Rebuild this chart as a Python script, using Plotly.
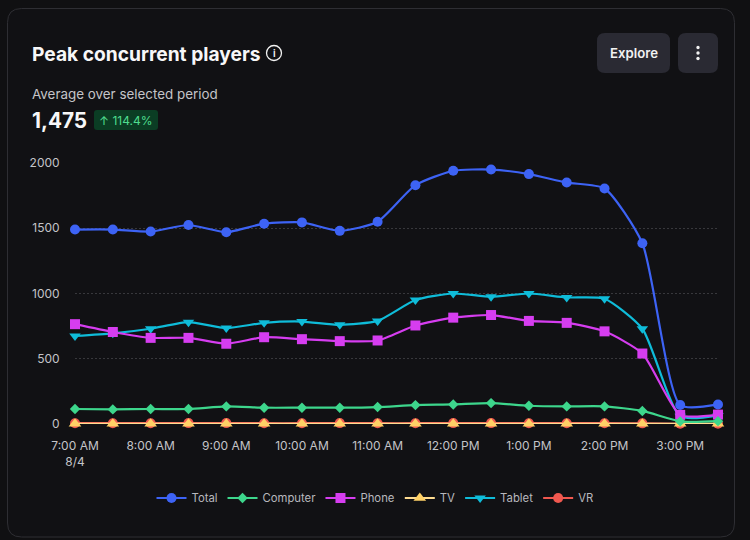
import plotly.graph_objects as go

times = ["7:00 AM", "7:30 AM", "8:00 AM", "8:30 AM", "9:00 AM", "9:30 AM", "10:00 AM", "10:30 AM", "11:00 AM",
         "11:30 AM", "12:00 PM", "12:30 PM", "1:00 PM", "1:30 PM", "2:00 PM", "2:30 PM", "3:00 PM", "3:30 PM"]
tick_vals = ["7:00 AM", "8:00 AM", "9:00 AM", "10:00 AM", "11:00 AM", "12:00 PM", "1:00 PM", "2:00 PM", "3:00 PM"]
tick_text = ["7:00 AM<br>8/4", "8:00 AM", "9:00 AM", "10:00 AM", "11:00 AM", "12:00 PM", "1:00 PM", "2:00 PM", "3:00 PM"]

total = [1490, 1490, 1475, 1525, 1470, 1535, 1545, 1480, 1550, 1830, 1940, 1950, 1915, 1850, 1805, 1385, 145, 150]
computer = [115, 112, 115, 115, 135, 125, 125, 125, 130, 145, 150, 160, 140, 135, 135, 100, 20, 22]
phone = [765, 705, 660, 660, 615, 665, 650, 635, 640, 755, 815, 835, 790, 775, 710, 540, 70, 72]
tv = [2, 2, 2, 2, 2, 2, 2, 2, 2, 2, 2, 2, 2, 2, 2, 2, 1, 1]
tablet = [675, 695, 730, 780, 735, 775, 785, 760, 790, 950, 1000, 975, 1000, 970, 960, 730, 60, 65]
vr = [6, 6, 6, 7, 7, 6, 6, 7, 6, 6, 7, 7, 6, 6, 6, 5, 2, 2]

W, H = 750, 540
def px(x): return x / W
def py(y): return 1 - y / H

def rrect(x0, y0, x1, y1, r):
    X0, X1 = px(x0), px(x1)
    Y0, Y1 = py(y0), py(y1)
    rx, ry = r / W, r / H
    return (f"M {X0 + rx} {Y0} L {X1 - rx} {Y0} Q {X1} {Y0} {X1} {Y0 - ry} "
            f"L {X1} {Y1 + ry} Q {X1} {Y1} {X1 - rx} {Y1} L {X0 + rx} {Y1} "
            f"Q {X0} {Y1} {X0} {Y1 + ry} L {X0} {Y0 - ry} Q {X0} {Y0} {X0 + rx} {Y0} Z")

FONT = "Inter"
series = [
    ("Total", total, "#3d63f5", "circle", 10, 1, "#3d63f5"),
    ("Tablet", tablet, "#0fbcd9", "triangle-down", 10, 5, "#0fbcd9"),
    ("Phone", phone, "#d63df0", "square", 10, 3, "#d63df0"),
    ("VR", vr, "#f0584f", "circle", 10, 6, "#f0584f"),
    ("TV", tv, "#ffd166", "triangle-up", 11, 4, "#ffdc90"),
    ("Computer", computer, "#3dd68c", "diamond", 8, 2, "#3dd68c"),
]

fig = go.Figure()
for name, vals, color, sym, size, rank, linecolor in series:
    fig.add_trace(go.Scatter(
        x=times, y=vals, name=name, mode="lines+markers", legendrank=rank,
        line=dict(color=linecolor, width=2.2, shape="spline", smoothing=0.6),
        marker=dict(color=color, symbol=sym, size=size),
        cliponaxis=False,
    ))

shapes = [
    dict(type="path", xref="paper", yref="paper", path=rrect(7.5, 8.5, 734.5, 537, 14),
         line=dict(color="#2e2e33", width=1), fillcolor="#111114", layer="below"),
    dict(type="path", xref="paper", yref="paper", path=rrect(597, 33, 670, 73, 8),
         line=dict(width=0), fillcolor="#2a2a33", layer="below"),
    dict(type="path", xref="paper", yref="paper", path=rrect(678, 33, 718, 73, 8),
         line=dict(width=0), fillcolor="#2a2a33", layer="below"),
    dict(type="path", xref="paper", yref="paper", path=rrect(94, 110, 158, 130, 3),
         line=dict(width=0), fillcolor="#0b3d24", layer="below"),
    dict(type="circle", xref="paper", yref="paper", x0=px(266.5), x1=px(281.5), y0=py(60.5), y1=py(45.5),
         line=dict(color="#f2f2f2", width=1.3)),
]
for cy in (47.5, 53, 58.5):
    shapes.append(dict(type="circle", xref="paper", yref="paper", x0=px(696.3), x1=px(699.7),
                       y0=py(cy + 1.7), y1=py(cy - 1.7), line=dict(width=0), fillcolor="#f2f2f2"))

def note(x, y, text, size, color, xanchor="left", weight=None):
    return dict(x=px(x), y=py(y), xref="paper", yref="paper", text=text, showarrow=False,
                xanchor=xanchor, yanchor="middle", borderpad=0, borderwidth=0,
                font=dict(family=FONT, size=size, color=color, weight=weight))

annotations = [
    note(32, 54, "Peak concurrent players", 19.2, "#f7f7f8", weight=700),
    note(274, 53, "i", 10, "#f7f7f8", "center", 600),
    note(32, 94, "Average over selected period", 13.4, "#c4c4c8"),
    note(32, 120, "1,475", 20.8, "#f7f7f8", weight=700),
    note(99, 120, "↑ 114.4%", 12, "#4fdc8f"),
    note(634, 53, "Explore", 13.2, "#f2f2f2", "center", 600),
]

fig.update_layout(
    width=W, height=H, margin=dict(l=0, r=0, t=0, b=0), autosize=False,
    paper_bgcolor="#101012", plot_bgcolor="rgba(0,0,0,0)",
    font=dict(family=FONT, size=12, color="#c4c4c8"),
    shapes=shapes, annotations=annotations,
    legend=dict(orientation="h", x=px(375), xanchor="center", y=py(498), yanchor="middle",
                font=dict(family=FONT, size=11.3, color="#b8b8bd"), bgcolor="rgba(0,0,0,0)",
                itemwidth=30, traceorder="normal"),
    xaxis=dict(domain=[px(75), px(718)], type="category", categoryorder="array", categoryarray=times,
               range=[0, 17], tickmode="array", tickvals=tick_vals, ticktext=tick_text, automargin=False,
               showgrid=False, zeroline=False, showline=False, ticks="outside", ticklen=11,
               tickcolor="rgba(0,0,0,0)", tickfont=dict(family=FONT, size=12, color="#c4c4c8"),
               tickangle=0),
    yaxis=dict(domain=[py(424), py(163)], range=[0, 2000], tickvals=[0, 500, 1000, 1500, 2000], automargin=False,
               showgrid=True, gridcolor="#38383c", griddash="2px,2px", gridwidth=1, zeroline=False,
               showline=False, ticks="outside", ticklen=12, tickcolor="rgba(0,0,0,0)",
               tickfont=dict(family=FONT, size=12, color="#c4c4c8")),
)
fig.write_html("out.html", post_script="document.body.style.margin='0';", config=dict(displayModeBar=False))
